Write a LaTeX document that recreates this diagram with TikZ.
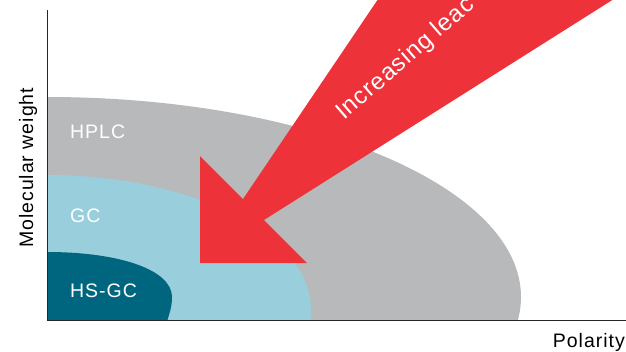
\documentclass[tikz,border=0pt]{standalone}
\usepackage{fontspec}
\setmainfont{Liberation Sans}
\usepackage{xcolor}
\definecolor{hplcgray}{HTML}{B8B9BB}
\definecolor{gcblue}{HTML}{99CFDC}
\definecolor{hsteal}{HTML}{00667F}
\definecolor{leachred}{HTML}{EE3239}

\begin{document}
\begin{tikzpicture}[x=1pt, y=-1pt,
  lbl/.style={text=white, inner sep=0pt,
    font=\fontsize{19.5}{23}\selectfont\addfontfeatures{LetterSpace=5}},
  axlbl/.style={text=black, inner sep=0pt,
    font=\fontsize{19.5}{23}\selectfont\addfontfeatures{LetterSpace=5}}]
  \useasboundingbox (0,0) rectangle (626,351);
  \coordinate (ytop) at (47,10);
  \coordinate (origin) at (47,320);
  \coordinate (xend) at (626,320);

  \begin{scope}
    \clip (origin) rectangle (626,0);
    \fill[hplcgray] (47,297) ellipse [x radius=474, y radius=200];
    \fill[gcblue] (47,310) ellipse [x radius=264, y radius=135];
    \fill[hsteal] (47,252) .. controls (120,252) and (172,270) .. (172,297)
      .. controls (172,308) and (169,314) .. (167,322) -- (40,322) -- cycle;
  \end{scope}

  \begin{scope}
    \clip (0,0) rectangle (626,351);
    \fill[leachred] (200,156) -- (243,199) -- (391,-20) -- (644,-20)
      -- (264,220) -- (307,263) -- (200,263) -- cycle;
    \node[lbl, font=\fontsize{24}{28}\selectfont\addfontfeatures{LetterSpace=4},
      rotate=41, anchor=base west] (leach) at (344,121) {Increasing leac};
  \end{scope}

  \node[lbl, anchor=base west] (hplc) at (70,138) {HPLC};
  \node[lbl, anchor=base west] (gc) at (70,222) {GC};
  \node[lbl, anchor=base west] (hsgc) at (70,297) {HS-GC};

  \draw[line width=1pt, black!85] (ytop) -- (origin) -- (xend);
  \node[axlbl, rotate=90, anchor=base west] (mw) at (33,248) {Molecular weight};
  \node[axlbl, anchor=base east] (pol) at (625,347) {Polarity};
\end{tikzpicture}
\end{document}
